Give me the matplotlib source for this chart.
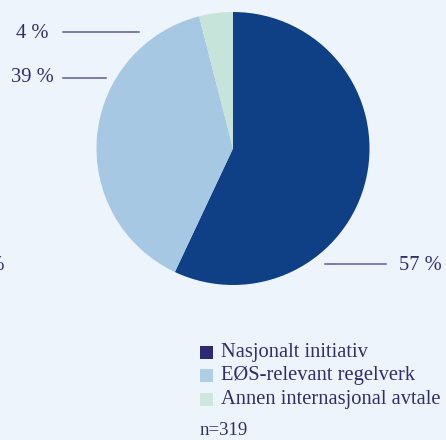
import matplotlib
matplotlib.use("Agg")
import matplotlib.pyplot as plt
from matplotlib.patches import Rectangle
from matplotlib.lines import Line2D

categories = ["Nasjonalt initiativ", "EØS-relevant regelverk", "Annen internasjonal avtale"]
shares = [57, 39, 4]
n_label = "n=319"

pie_colors = ["#0f3f84", "#a6c8e2", "#c6e4d9"]
legend_colors = ["#2a2b72", "#aecde6", "#cde7dd"]
bg = "#edf4fc"
txt = "#2d2e6e"
line_c = "#5a5c96"

W, H = 446, 440
fig = plt.figure(figsize=(W / 100, H / 100), dpi=100, facecolor=bg)
plt.rcParams["font.family"] = ["Liberation Serif", "DejaVu Serif"]

cx, cy, r = 233, 148.5, 136.5
ax = fig.add_axes([(cx - r) / W, 1 - (cy + r) / H, 2 * r / W, 2 * r / H])
ax.set_facecolor(bg)
ax.pie(shares, colors=pie_colors, startangle=90, counterclock=False,
       wedgeprops=dict(linewidth=0))
ax.set_xlim(-1, 1)
ax.set_ylim(-1, 1)
ax.set_aspect("equal")
ax.axis("off")


def px(x, y):
    return x / W, 1 - y / H


FS = 14.8


def label(text, x, y, ha):
    fig.text(*px(x, y), text, ha=ha, va="center", fontsize=FS, color=txt)


def leader(x0, x1, y):
    fig.add_artist(Line2D([x0 / W, x1 / W], [1 - y / H, 1 - y / H],
                          color=line_c, linewidth=1.1, transform=fig.transFigure))


# percentage labels with leader lines
label(f"{shares[2]} %", 49, 33, "right")
leader(63, 139, 32)
label(f"{shares[1]} %", 54, 78, "right")
leader(63, 106, 78)
label(f"{shares[0]} %", 399, 265, "left")
leader(325, 386, 264)
label("0 %", 5, 265, "right")

# legend
for i, (name, c) in enumerate(zip(categories, legend_colors)):
    y = 352 + i * 23.5
    fig.add_artist(Rectangle(px(200, y + 6.5), 13 / W, 13 / H, color=c,
                             transform=fig.transFigure, linewidth=0))
    fig.text(*px(221, y), name, ha="left", va="center", fontsize=FS, color=txt)

fig.text(*px(200, 430), n_label, ha="left", va="center", fontsize=13.5, color=txt)

fig.savefig("out.png", dpi=100, facecolor=bg)
